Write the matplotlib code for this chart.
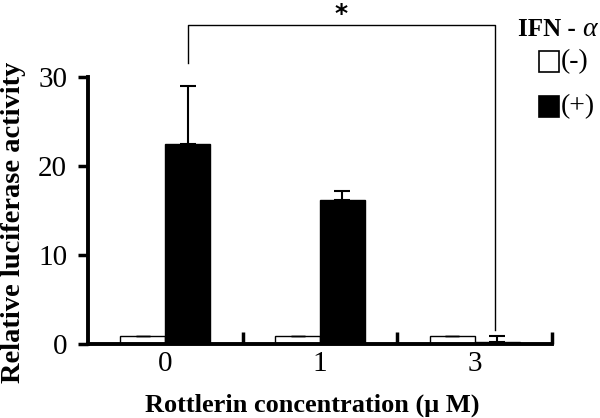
import matplotlib
matplotlib.use("Agg")
import matplotlib.pyplot as plt
from matplotlib.patches import Rectangle
import numpy as np

plt.rcParams['font.family'] = ['Liberation Serif', 'DejaVu Serif']

categories = ["0", "1", "3"]
minus_vals = [0.9, 0.9, 0.9]
minus_err = [0.05, 0.05, 0.05]
plus_vals = [22.5, 16.2, 0.2]
plus_err = [6.5, 1.0, 0.7]
yticks = [0, 10, 20, 30]

fig = plt.figure(figsize=(6.0, 4.18), dpi=100)
ax = fig.add_axes([88/600, 1-344/418, (552-88)/600, (344-77)/418])

x = np.arange(len(categories)) + 0.5
w = 0.29
ax.bar(x - w/2, minus_vals, w, color='white', edgecolor='black', linewidth=1.0,
       yerr=minus_err, error_kw=dict(ecolor='black', elinewidth=1.0, capsize=5, capthick=1.0))
ax.bar(x + w/2, plus_vals, w, color='black', edgecolor='black', linewidth=1.0,
       yerr=[[0]*3, plus_err], error_kw=dict(ecolor='black', elinewidth=1.5, capsize=6, capthick=1.5))

ax.set_xlim(0, 3)
ax.set_ylim(0, 30)
ax.set_yticks(yticks)
ax.set_yticklabels([str(t) for t in yticks], fontsize=21)
ax.tick_params(axis='y', direction='out', length=7, width=2.5, pad=8)
ax.set_xticks([1, 2, 3])
ax.set_xticklabels([])
ax.tick_params(axis='x', direction='in', length=9, width=2.5)
for xi, lab in zip(x, categories):
    ax.text(xi, -0.8, lab, ha='center', va='top', fontsize=21)

for s in ['top', 'right']:
    ax.spines[s].set_visible(False)
for s in ['left', 'bottom']:
    ax.spines[s].set_linewidth(2.8)

fig.text(14/600, 1-(55+389)/2/418, "Relative luciferase activity", rotation=90,
         ha='center', va='center', fontsize=20.5, fontweight='bold')
fig.text((147+478)/2/600, 1-412/418, "Rottlerin concentration (\u03bc M)", ha='center', va='baseline',
         fontsize=19, fontweight='bold')

# significance bracket
bx0 = x[0] + w/2
bx1 = x[2] + w/2 - 0.015
ax.plot([bx0, bx0, bx1, bx1], [31.6, 35.8, 35.8, 1.6], color='black', lw=1.0, clip_on=False)
ax.text((bx0 + bx1)/2, 38.4, "*", ha='center', va='top', fontsize=18, fontweight='bold',
        family='DejaVu Sans')

# legend
fig.text(518/600, 1-30/418, "IFN - ", ha='left', va='center', fontsize=18, fontweight='bold')
fig.text(597/600, 1-30/418, "\u03b1", ha='right', va='center', fontsize=20, style='italic')
fig.add_artist(Rectangle((539/600, 1-72/418), 20/600, 21/418, transform=fig.transFigure,
                         facecolor='white', edgecolor='black', lw=1.2))
fig.text(561/600, 1-62/418, "(-)", ha='left', va='center', fontsize=20)
fig.add_artist(Rectangle((539/600, 1-117/418), 20/600, 21/418, transform=fig.transFigure,
                         facecolor='black', edgecolor='black', lw=1.2))
fig.text(561/600, 1-107/418, "(+)", ha='left', va='center', fontsize=20)

fig.savefig("out.png", dpi=100)
